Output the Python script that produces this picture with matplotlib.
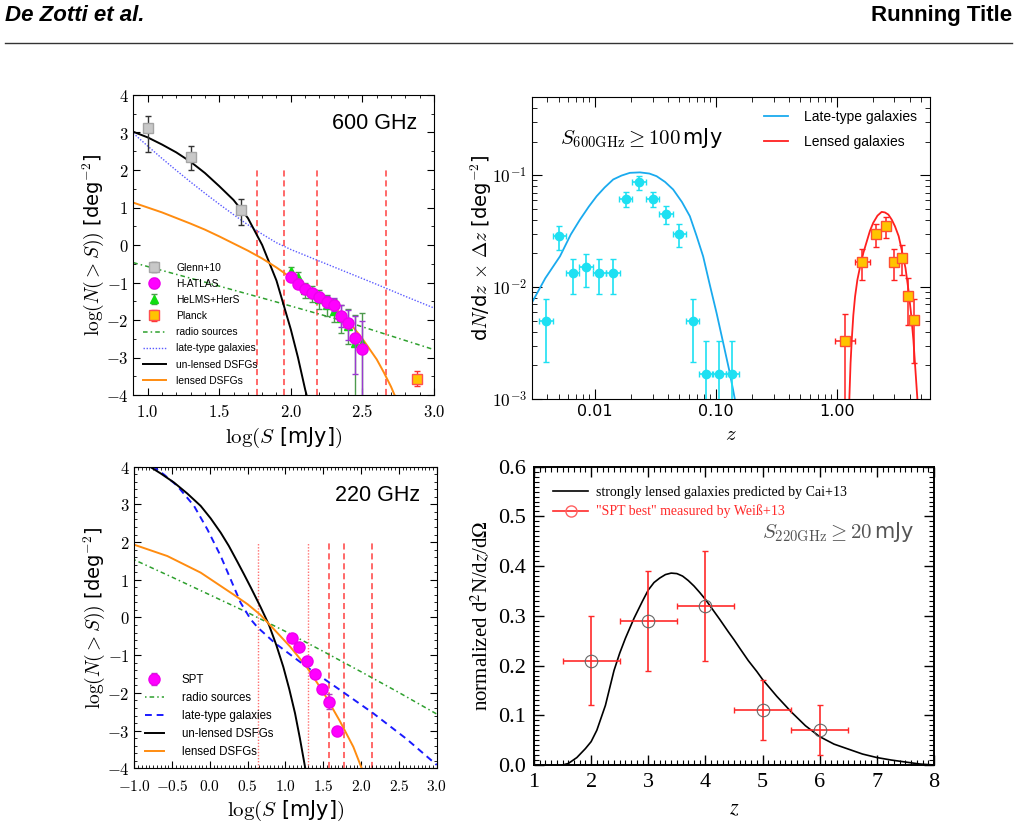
import numpy as np
import matplotlib
matplotlib.use('Agg')
import matplotlib.pyplot as plt
from matplotlib.ticker import MultipleLocator, FuncFormatter, LogLocator, NullFormatter, FixedLocator
from matplotlib.lines import Line2D

plt.rcParams['mathtext.fontset'] = 'cm'
plt.rcParams['font.family'] = ['DejaVu Sans']

# ---------------- Panel 1: 600 GHz counts ----------------
glenn_logS = [1.0, 1.3, 1.65]
glenn_logN = [3.11, 2.34, 0.93]
glenn_err_lo = [0.62, 0.34, 0.40]
glenn_err_hi = [0.33, 0.31, 0.31]

hatlas_logS = [2.0, 2.05, 2.1, 2.15, 2.2, 2.25, 2.3, 2.35, 2.4, 2.45, 2.5]
hatlas_logN = [-0.86, -1.05, -1.17, -1.27, -1.38, -1.52, -1.59, -1.89, -2.07, -2.48, -2.77]
hatlas_err_lo = [0.07, 0.08, 0.09, 0.10, 0.12, 0.15, 0.18, 0.30, 0.45, 0.95, 2.0]
hatlas_err_hi = [0.07, 0.08, 0.09, 0.10, 0.12, 0.15, 0.18, 0.28, 0.35, 0.60, 0.75]

helms_logS = [2.0, 2.05, 2.1, 2.15, 2.2, 2.25, 2.3, 2.35, 2.4, 2.45, 2.5]
helms_logN = [-0.68, -0.84, -1.20, -1.30, -1.45, -1.60, -1.75, -1.95, -2.15, -2.62, -2.62]
helms_err_lo = [0.10, 0.12, 0.20, 0.22, 0.25, 0.28, 0.30, 0.40, 0.50, 1.50, 1.50]
helms_err_hi = [0.10, 0.12, 0.20, 0.22, 0.25, 0.28, 0.30, 0.35, 0.45, 0.75, 0.80]

planck_logS = [2.88]
planck_logN = [-3.56]
planck_err = [0.2]

radio600_logS = [0.9, 1.4, 1.9, 2.4, 3.0]
radio600_logN = [-0.47, -0.99, -1.52, -2.06, -2.79]

late600_logS = [0.9, 1.0, 1.1, 1.2, 1.3, 1.4, 1.5, 1.6, 1.7, 1.8, 1.9, 2.0, 2.2, 2.4, 2.6, 2.8, 3.0]
late600_logN = [2.98, 2.64, 2.31, 1.99, 1.68, 1.38, 1.09, 0.81, 0.54, 0.29, 0.06, -0.12, -0.43, -0.74, -1.05, -1.37, -1.68]

unlens600_logS = [0.9, 1.0, 1.1, 1.2, 1.3, 1.4, 1.5, 1.6, 1.7, 1.8, 1.9, 2.0, 2.05, 2.1, 2.12]
unlens600_logN = [3.02, 2.87, 2.68, 2.47, 2.22, 1.92, 1.57, 1.20, 0.72, 0.0, -0.95, -2.25, -3.0, -3.85, -4.15]

lens600_logS = [0.9, 1.0, 1.1, 1.2, 1.3, 1.4, 1.5, 1.6, 1.7, 1.8, 1.9, 2.0, 2.1, 2.2, 2.3, 2.4, 2.5, 2.6, 2.65, 2.7, 2.73]
lens600_logN = [1.13, 1.0, 0.87, 0.72, 0.57, 0.41, 0.23, 0.04, -0.15, -0.36, -0.6, -0.87, -1.12, -1.36, -1.65, -2.02, -2.5, -3.05, -3.4, -3.78, -4.05]

vlines600 = [1.762, 1.953, 2.182, 2.666]

# ---------------- Panel 2: redshift distributions ----------------
late_z_obs = [0.00394, 0.00507, 0.00655, 0.00844, 0.0109, 0.0141, 0.0180, 0.0232, 0.0300, 0.0386, 0.0498, 0.0641, 0.0826, 0.107, 0.137]
late_dn_obs = [0.0050, 0.0285, 0.0134, 0.0151, 0.0134, 0.0134, 0.0618, 0.0866, 0.0618, 0.0454, 0.0301, 0.0050, 0.00168, 0.00168, 0.00168]
late_dn_hi = [0.0078, 0.0350, 0.0179, 0.0199, 0.0179, 0.0179, 0.0710, 0.0980, 0.0710, 0.0536, 0.0369, 0.0078, 0.00331, 0.00331, 0.00331]
late_dn_lo = [0.00212, 0.0216, 0.0087, 0.0101, 0.0087, 0.0087, 0.0517, 0.0745, 0.0517, 0.0367, 0.0227, 0.00212, 1e-4, 1e-4, 1e-4]
late_dlogz = [0.055, 0.055, 0.055, 0.055, 0.055, 0.055, 0.055, 0.055, 0.055, 0.055, 0.055, 0.055, 0.055, 0.055, 0.055]

lensz_obs = [1.17, 1.63, 2.10, 2.54, 2.98, 3.44, 3.88, 4.35]
lensz_dn_obs = [0.00333, 0.0168, 0.0300, 0.0349, 0.0168, 0.0183, 0.0083, 0.00503]
lensz_dn_hi = [0.00578, 0.0219, 0.0369, 0.0420, 0.0219, 0.0239, 0.0120, 0.0079]
lensz_dn_lo = [1e-4, 0.0115, 0.0229, 0.0275, 0.0115, 0.0129, 0.0046, 0.0021]
lensz_dlogz = [0.083, 0.062, 0.03, 0.025, 0.025, 0.02, 0.02, 0.015]

late_model_z = [0.0030, 0.00389, 0.00514, 0.00631, 0.00752, 0.00891, 0.01033, 0.01202, 0.01416, 0.0166,
                0.01945, 0.02355, 0.02818, 0.03236, 0.0380, 0.04436, 0.05248, 0.06095, 0.06918, 0.07852,
                0.08913, 0.1014, 0.1148, 0.1306, 0.1435]
late_model_dn = [0.00721, 0.01202, 0.01884, 0.0295, 0.0401, 0.0525, 0.0649, 0.0776, 0.0916, 0.0993,
                 0.105, 0.106, 0.1035, 0.098, 0.0871, 0.0745, 0.0575, 0.043, 0.0288, 0.0188,
                 0.01047, 0.00586, 0.0032, 0.0017, 0.001]

lens_model_z = [1.27, 1.30, 1.33, 1.37, 1.417, 1.48, 1.56, 1.66, 1.77, 1.88, 2.0, 2.17, 2.35, 2.5, 2.67,
                2.85, 3.03, 3.25, 3.44, 3.7, 3.91, 4.1, 4.30, 4.64]
lens_model_dn = [0.001, 0.0021, 0.00338, 0.0056, 0.00826, 0.0116, 0.0153, 0.0203, 0.0256, 0.0318, 0.0375,
                 0.0435, 0.047, 0.0465, 0.0445, 0.040, 0.0349, 0.0285, 0.0216, 0.0148, 0.0095, 0.0060,
                 0.00338, 0.001]

# ---------------- Panel 3: 220 GHz counts ----------------
spt_logS = [1.082, 1.183, 1.284, 1.39, 1.483, 1.58, 1.677]
spt_logN = [-0.55, -0.79, -1.15, -1.51, -1.89, -2.23, -3.01]
spt_err = [0.05, 0.1, 0.1, 0.07, 0.1, 0.2, 0.05]

radio220_logS = [-1.0, -0.5, 0.0, 0.5, 1.0, 1.5, 2.0, 2.5, 3.0]
radio220_logN = [1.53, 1.07, 0.6, 0.13, -0.37, -0.9, -1.44, -1.99, -2.56]

late220_logS = [-0.76, -0.6, -0.431, -0.21, -0.034, 0.143, 0.275, 0.407, 0.54, 0.63, 0.861, 1.28, 1.72, 2.16, 2.6, 3.0]
late220_logN = [4.02, 3.78, 3.49, 2.96, 2.34, 1.63, 1.01, 0.39, -0.05, -0.26, -0.68, -1.31, -1.92, -2.54, -3.22, -3.91]

unlens220_logS = [-0.81, -0.65, -0.475, -0.3, -0.122, 0.01, 0.143, 0.25, 0.363, 0.45, 0.54, 0.672, 0.782,
                  0.88, 0.971, 1.05, 1.126, 1.19, 1.258, 1.27]
unlens220_logN = [4.02, 3.82, 3.58, 3.29, 2.96, 2.63, 2.25, 1.9, 1.48, 1.15, 0.8, 0.27, -0.2,
                  -0.74, -1.31, -1.9, -2.54, -3.2, -3.96, -4.1]

lens220_logS = [-1.0, -0.563, -0.122, 0.319, 0.5, 0.663, 0.772, 1.06, 1.28, 1.5, 1.72, 1.897, 2.008]
lens220_logN = [1.93, 1.63, 1.19, 0.6, 0.35, 0.08, -0.15, -0.77, -1.31, -1.98, -2.75, -3.43, -4.0]

vlines220_dotted = [0.64, 1.302]
vlines220_dashed = [1.575, 1.774, 2.14]

# ---------------- Panel 4: SPT redshift distribution ----------------
cai_z = [1.5, 1.6, 1.75, 1.9, 2.0, 2.1, 2.25, 2.4, 2.5, 2.6, 2.75, 2.9, 3.0, 3.1, 3.2, 3.3, 3.4, 3.5, 3.6,
         3.7, 3.8, 3.9, 4.0, 4.1, 4.25, 4.4, 4.5, 4.6, 4.75, 4.9, 5.0, 5.25, 5.5, 5.75, 6.0, 6.25, 6.5,
         6.75, 7.0, 7.25, 7.5, 7.75, 8.0]
cai_pdf = [0.0, 0.003, 0.015, 0.033, 0.047, 0.07, 0.12, 0.19, 0.225, 0.255, 0.295, 0.33, 0.352, 0.367,
           0.376, 0.383, 0.386, 0.385, 0.38, 0.371, 0.36, 0.347, 0.333, 0.317, 0.293, 0.268, 0.252, 0.235,
           0.21, 0.188, 0.172, 0.138, 0.107, 0.079, 0.057, 0.042, 0.032, 0.022, 0.015, 0.01, 0.006, 0.002, 0.0]

weiss_z = [2, 3, 4, 5, 6]
weiss_pdf = [0.21, 0.29, 0.32, 0.11, 0.07]
weiss_zerr = [0.5, 0.5, 0.5, 0.5, 0.5]
weiss_err_lo = [0.09, 0.10, 0.11, 0.06, 0.05]
weiss_err_hi = [0.09, 0.10, 0.11, 0.06, 0.05]

# ======================= Figure =======================
W, H = 1018, 827
fig = plt.figure(figsize=(W / 100, H / 100), dpi=100)

def add_ax(l, r, t, b):
    return fig.add_axes([l / W, 1 - b / H, (r - l) / W, (b - t) / H])

SANS = 'Liberation Sans'

# header
fig.text(5 / W, 1 - 21 / H, 'De Zotti et al.', fontsize=16, fontweight='bold', fontstyle='italic',
         family=SANS, va='baseline', ha='left')
fig.text(1012 / W, 1 - 21 / H, 'Running Title', fontsize=16, fontweight='bold',
         family=SANS, va='baseline', ha='right')
fig.add_artist(Line2D([5 / W, 1012 / W], [1 - 42.5 / H, 1 - 42.5 / H], color='#333333', lw=1.0))

cmfmt1 = FuncFormatter(lambda v, p: r'$%.1f$' % v)
cmfmt0 = FuncFormatter(lambda v, p: r'$%d$' % round(v))

def style_counts(ax, xlabsize=12, xpad=6):
    ax.tick_params(which='both', direction='in', top=True, right=True, labelsize=12)
    ax.tick_params(axis='x', labelsize=xlabsize, pad=xpad)
    ax.tick_params(which='major', length=5, width=0.8)
    ax.tick_params(which='minor', length=2.5, width=0.6)
    ax.xaxis.set_major_formatter(cmfmt1)
    ax.yaxis.set_major_formatter(cmfmt0)
    ax.yaxis.set_major_locator(MultipleLocator(1))
    ax.set_ylim(-4, 4)
    ax.set_ylabel(r'$\log(N(>S))$ [deg$^{-2}$]', fontsize=14, labelpad=0)
    ax.set_xlabel(r'$\log(S$ [mJy]$)$', fontsize=15, labelpad=3)

# ---------- Panel 1 ----------
ax1 = add_ax(133.3, 434, 95, 395)
vred = '#ff4040'
for xv in vlines600:
    ax1.plot([xv, xv], [-4, 2], color=vred, ls=(0, (4, 2.5)), lw=1.1, zorder=1)
h_radio, = ax1.plot(radio600_logS, radio600_logN, color='#2ea02e', ls=(0, (3, 2, 1, 2)), lw=1.1)
h_late, = ax1.plot(late600_logS, late600_logN, color='#5a5aff', ls=(0, (1, 1.2)), lw=1.0)
h_unl, = ax1.plot(unlens600_logS, unlens600_logN, color='black', lw=1.4)
h_len, = ax1.plot(lens600_logS, lens600_logN, color='#ff8c10', lw=1.4)
h_gl = ax1.errorbar(glenn_logS, glenn_logN, yerr=[glenn_err_lo, glenn_err_hi], fmt='s', ms=7,
                    mfc='#c8c8c8', mec='#a5a5a5', ecolor='#333333', elinewidth=1, capsize=2.5, zorder=5)
h_he = ax1.errorbar(helms_logS, helms_logN, yerr=[helms_err_lo, helms_err_hi], fmt='^', ms=6,
                    mfc='#11dd11', mec='#11dd11', ecolor='#4d9a4d', elinewidth=1, capsize=2.5, zorder=5)
h_ha = ax1.errorbar(hatlas_logS, hatlas_logN, yerr=[hatlas_err_lo, hatlas_err_hi], fmt='o', ms=8,
                    mfc='#ff00ff', mec='#ee00ee', ecolor='#9a3ad0', elinewidth=1, capsize=2.5, zorder=6)
h_pl = ax1.errorbar(planck_logS, planck_logN, yerr=planck_err, fmt='s', ms=7,
                    mfc='#ffc400', mec='#ff5050', ecolor='#ff3030', elinewidth=1, capsize=2.5, zorder=6)
ax1.set_xlim(0.9, 3.0)
ax1.xaxis.set_major_locator(FixedLocator([1.0, 1.5, 2.0, 2.5, 3.0]))
ax1.xaxis.set_minor_locator(MultipleLocator(0.1))
ax1.yaxis.set_minor_locator(MultipleLocator(0.5))
style_counts(ax1, xpad=6)
ax1.text(0.945, 0.905, '600 GHz', transform=ax1.transAxes, ha='right', va='center', fontsize=15.5, family=SANS)
ax1.legend([h_gl, h_ha, h_he, h_pl, h_radio, h_late, h_unl, h_len],
           ['Glenn+10', 'H-ATLAS', 'HeLMS+HerS', 'Planck', 'radio sources', 'late-type galaxies',
            'un-lensed DSFGs', 'lensed DSFGs'],
           loc='lower left', bbox_to_anchor=(0.0, 0.0), frameon=False, prop={'family': SANS, 'size': 7.4},
           handlelength=2.3, labelspacing=0.6, borderaxespad=0.5, handletextpad=1.0)

# ---------- Panel 2 ----------
ax2 = add_ax(531.7, 930, 97, 399)
ax2.set_xscale('log')
ax2.set_yscale('log')
cy_line = '#1aaaee'
cy_pt = '#1ee0f2'
ax2.plot(late_model_z, late_model_dn, color=cy_line, lw=1.3, label='Late-type galaxies')
ax2.plot(lens_model_z, lens_model_dn, color='#ff2020', lw=1.3, label='Lensed galaxies')
lz = np.array(late_z_obs)
ld = np.array(late_dlogz)
ax2.errorbar(lz, late_dn_obs,
             xerr=[lz - lz * 10 ** (-ld), lz * 10 ** ld - lz],
             yerr=[np.array(late_dn_obs) - np.array(late_dn_lo), np.array(late_dn_hi) - np.array(late_dn_obs)],
             fmt='o', ms=6, mfc=cy_pt, mec=cy_pt, ecolor=cy_pt, elinewidth=1.2, capsize=2.5, zorder=5)
sz = np.array(lensz_obs)
sd = np.array(lensz_dlogz)
ax2.errorbar(sz, lensz_dn_obs,
             xerr=[sz - sz * 10 ** (-sd), sz * 10 ** sd - sz],
             yerr=[np.array(lensz_dn_obs) - np.array(lensz_dn_lo), np.array(lensz_dn_hi) - np.array(lensz_dn_obs)],
             fmt='s', ms=6.5, mfc='#ffc400', mec='#ff5030', ecolor='#ff2020', elinewidth=1.1, capsize=2.5, zorder=5)
ax2.set_xlim(0.003, 5.9)
ax2.set_ylim(1e-3, 0.5)
ax2.tick_params(which='both', direction='in', top=True, right=True)
ax2.tick_params(which='major', length=7, width=0.8)
ax2.tick_params(which='minor', length=3.5, width=0.6)
ax2.xaxis.set_major_locator(FixedLocator([0.01, 0.1, 1.0]))
ax2.xaxis.set_minor_locator(LogLocator(base=10, subs=np.arange(2, 10)))
ax2.xaxis.set_minor_formatter(NullFormatter())
ax2.xaxis.set_major_formatter(FuncFormatter(lambda v, p: '%.2f' % v))
ax2.yaxis.set_major_locator(FixedLocator([1e-3, 1e-2, 1e-1]))
ax2.yaxis.set_minor_locator(LogLocator(base=10, subs=np.arange(2, 10)))
ax2.yaxis.set_minor_formatter(NullFormatter())
ax2.yaxis.set_major_formatter(FuncFormatter(lambda v, p: r'$10^{%d}$' % round(np.log10(v))))
for t in ax2.get_xticklabels():
    t.set_fontsize(11.5)
for t in ax2.get_yticklabels():
    t.set_fontsize(12.5)
ax2.set_xlabel(r'$z$', fontsize=15, labelpad=4)
ax2.set_ylabel(r'd$N$/d$z$ $\times$ $\Delta z$ [deg$^{-2}$]', fontsize=14, labelpad=-2)
ax2.text(0.07, 0.865, r'$S_{600\mathrm{GHz}}\geq 100\,$mJy', transform=ax2.transAxes, fontsize=15, va='center')
ax2.legend(loc='upper right', frameon=False, prop={'family': SANS, 'size': 10}, handlelength=1.7,
           handletextpad=1.15, labelspacing=0.75, borderaxespad=0.55)

# ---------- Panel 3 ----------
ax3 = add_ax(134.3, 436.7, 466.7, 768.3)
for xv in vlines220_dotted:
    ax3.plot([xv, xv], [-4, 2], color='#ff7070', ls=(0, (1, 1.2)), lw=1.0, zorder=1)
for xv in vlines220_dashed:
    ax3.plot([xv, xv], [-4, 2], color=vred, ls=(0, (4, 2.5)), lw=1.1, zorder=1)
g_radio, = ax3.plot(radio220_logS, radio220_logN, color='#2ea02e', ls=(0, (1, 2, 3, 2)), lw=1.1)
g_late, = ax3.plot(late220_logS, late220_logN, color='#1a1aff', ls=(0, (3.5, 2.5)), lw=1.4)
g_unl, = ax3.plot(unlens220_logS, unlens220_logN, color='black', lw=1.4)
g_len, = ax3.plot(lens220_logS, lens220_logN, color='#ff8c10', lw=1.4)
g_spt = ax3.errorbar(spt_logS, spt_logN, yerr=spt_err, fmt='o', ms=8, mfc='#ff00ff', mec='#ee00ee',
                     ecolor='#b040c0', elinewidth=1, capsize=2.5, zorder=6)
ax3.set_xlim(-1.0, 3.0)
ax3.xaxis.set_major_locator(MultipleLocator(0.5))
ax3.xaxis.set_minor_locator(MultipleLocator(0.05))
ax3.yaxis.set_minor_locator(MultipleLocator(0.2))
style_counts(ax3, xlabsize=11, xpad=8)
ax3.text(0.945, 0.905, '220 GHz', transform=ax3.transAxes, ha='right', va='center', fontsize=15.5, family=SANS)
ax3.legend([g_spt, g_radio, g_late, g_unl, g_len],
           ['SPT', 'radio sources', 'late-type galaxies', 'un-lensed DSFGs', 'lensed DSFGs'],
           loc='lower left', bbox_to_anchor=(0.0, 0.0), frameon=False, prop={'family': SANS, 'size': 8.3},
           handlelength=1.7, labelspacing=0.52, borderaxespad=0.5, handletextpad=1.5)

# ---------- Panel 4 ----------
ax4 = add_ax(534, 934, 466.7, 765)
serif = 'Liberation Serif'
ax4.plot(cai_z, cai_pdf, color='black', lw=1.2, zorder=3)
ax4.errorbar(weiss_z, weiss_pdf, xerr=weiss_zerr, yerr=[weiss_err_lo, weiss_err_hi], fmt='none',
             ecolor='#ff2a2a', elinewidth=1.2, capsize=2.5, zorder=4)
ax4.plot(weiss_z, weiss_pdf, 'o', ms=9, mfc='none', mec='#666666', mew=0.8, zorder=5)
ax4.set_xlim(1, 8)
ax4.set_ylim(0, 0.6)
ax4.xaxis.set_major_locator(MultipleLocator(1))
ax4.xaxis.set_minor_locator(MultipleLocator(0.1))
ax4.yaxis.set_major_locator(MultipleLocator(0.1))
ax4.yaxis.set_minor_locator(MultipleLocator(0.01))
ax4.xaxis.set_major_formatter(FuncFormatter(lambda v, p: '%d' % round(v)))
ax4.yaxis.set_major_formatter(FuncFormatter(lambda v, p: '%.1f' % v))
ax4.tick_params(which='both', direction='in', top=True, right=True, labelsize=16)
ax4.tick_params(which='major', length=7, width=1.0, pad=6)
ax4.tick_params(which='minor', length=3.5, width=0.8)
for t in ax4.get_xticklabels() + ax4.get_yticklabels():
    t.set_family(serif)
for s in ax4.spines.values():
    s.set_linewidth(1.4)
ax4.set_xlabel(r'$z$', fontsize=16, labelpad=4, math_fontfamily='stix')
ax4.set_ylabel(r'normalized d$^2$N/d$z$/d$\Omega$', fontsize=15, family=serif, math_fontfamily='stix', labelpad=4)
ax4.text(0.95, 0.78, r'$S_{220\mathrm{GHz}}\geq 20\,$mJy', transform=ax4.transAxes, ha='right', va='center',
         fontsize=15, color='#555555')
ax4.legend([Line2D([], [], color='black', lw=1.2),
            Line2D([], [], color='#ff2a2a', lw=1.2, marker='o', ms=8, mfc='none', mec='#ff6060')],
           ['strongly lensed galaxies predicted by Cai+13', '"SPT best" measured by Weiß+13'],
           loc='upper left', frameon=False, prop={'family': serif, 'size': 10},
           handlelength=2.5, labelspacing=0.4, borderaxespad=1.0, handletextpad=0.6,
           labelcolor=['black', '#ff2a2a'])

fig.savefig('out.png', dpi=100)
